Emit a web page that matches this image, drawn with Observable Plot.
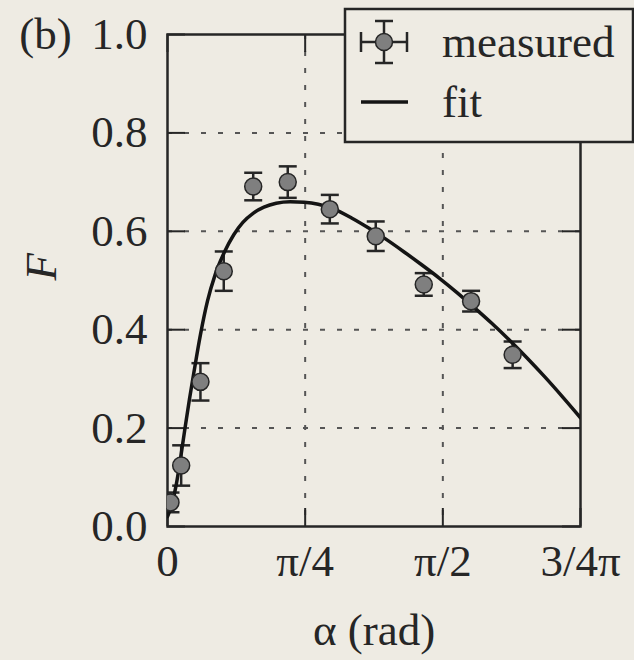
<!DOCTYPE html>
<html>
<head>
<meta charset="utf-8">
<script src="https://cdn.jsdelivr.net/npm/d3@7"></script>
<script src="https://cdn.jsdelivr.net/npm/@observablehq/plot@0.6"></script>
<style>
  html, body { margin: 0; padding: 0; background: #eeebe3; }
  #chart { position: relative; width: 634px; height: 660px; overflow: hidden; }
  #chart svg { position: absolute; left: 0; top: 0; }
</style>
</head>
<body>
<div id="chart"></div>
<script>
// Measured fidelity F versus angle alpha (rad), with vertical error bars
const alphaMeasured = [0.017, 0.078, 0.188, 0.321, 0.489, 0.686, 0.926, 1.188, 1.462, 1.732, 1.969];
const fMeasured     = [0.049, 0.124, 0.294, 0.519, 0.691, 0.700, 0.645, 0.590, 0.492, 0.458, 0.349];
const fError        = [0.020, 0.041, 0.038, 0.040, 0.028, 0.032, 0.029, 0.030, 0.023, 0.021, 0.027];

// Fitted curve, sampled along alpha
const alphaFit = [0, 0.025, 0.050, 0.075, 0.100, 0.125, 0.150, 0.188, 0.228, 0.272, 0.325, 0.378,
                  0.430, 0.490, 0.550, 0.620, 0.700, 0.780, 0.860, 0.950, 1.050, 1.150, 1.250,
                  1.350, 1.450, 1.550, 1.650, 1.750, 1.850, 1.950, 2.050, 2.150, 2.250, 2.356];
const fFit     = [0.020, 0.045, 0.085, 0.140, 0.200, 0.258, 0.312, 0.390, 0.458, 0.512, 0.558, 0.593,
                  0.618, 0.637, 0.649, 0.657, 0.660, 0.659, 0.655, 0.645, 0.627, 0.606, 0.583,
                  0.558, 0.532, 0.505, 0.476, 0.445, 0.413, 0.379, 0.343, 0.305, 0.265, 0.221];

// Axis ticks
const xTickValues = [0, Math.PI / 4, Math.PI / 2, 3 * Math.PI / 4];
const xTickLabels = ["0", "π/4", "π/2", "3/4π"];
const yTickValues = [0, 0.2, 0.4, 0.6, 0.8, 1.0];
const yTickLabels = ["0.0", "0.2", "0.4", "0.6", "0.8", "1.0"];
const legendLabels = ["measured", "fit"];
const xAxisTitle = "α (rad)";
const yAxisTitle = "F";
const panelTag = "(b)";

const W = 634, H = 660;
const margin = {top: 34, right: 54, bottom: 134, left: 167};
const frameW = W - margin.left - margin.right;
const frameH = H - margin.top - margin.bottom;
const tickLen = 18;
const ink = "#262626";
const bg = "#eeebe3";
const font = "'Liberation Serif', 'DejaVu Serif', serif";

const measured = alphaMeasured.map((a, i) => ({alpha: a, F: fMeasured[i], err: fError[i]}));
const fit = alphaFit.map((a, i) => ({alpha: a, F: fFit[i]}));

// horizontal cap for error bars; half-width equals the dot radius r
const capSymbol = {
  draw(context, size) {
    const w = Math.sqrt(size / Math.PI);
    context.moveTo(-w, 0);
    context.lineTo(w, 0);
  }
};

const grid = {stroke: "#555", strokeOpacity: 1, strokeWidth: 2, strokeDasharray: "5,12"};
const tickStyle = {stroke: ink, strokeWidth: 2};

const plot = Plot.plot({
  width: W,
  height: H,
  marginTop: margin.top,
  marginRight: margin.right,
  marginBottom: margin.bottom,
  marginLeft: margin.left,
  style: {background: "transparent", fontFamily: font, fontSize: "45px", color: ink},
  x: {domain: [0, 3 * Math.PI / 4]},
  y: {domain: [0, 1]},
  marks: [
    Plot.gridX(xTickValues.slice(1, -1), grid),
    Plot.gridY(yTickValues.slice(1, -1), grid),
    // inward ticks on all four sides
    Plot.tickX(xTickValues, {x: d => d, insetTop: frameH - tickLen, ...tickStyle}),
    Plot.tickX(xTickValues, {x: d => d, insetBottom: frameH - tickLen, ...tickStyle}),
    Plot.tickY(yTickValues, {y: d => d, insetRight: frameW - tickLen, ...tickStyle}),
    Plot.tickY(yTickValues, {y: d => d, insetLeft: frameW - tickLen, ...tickStyle}),
    Plot.axisX(xTickValues, {tickSize: 0, tickPadding: 18, label: null, fill: ink,
      tickFormat: d => xTickLabels[xTickValues.indexOf(d)]}),
    Plot.axisY(yTickValues, {tickSize: 0, tickPadding: 20, label: null, fill: ink,
      tickFormat: d => yTickLabels[yTickValues.indexOf(d)]}),
    Plot.frame({stroke: ink, strokeWidth: 2.5}),
    // error bars
    Plot.ruleX(measured, {x: "alpha", y1: d => d.F - d.err, y2: d => d.F + d.err,
      stroke: ink, strokeWidth: 2.5, clip: true}),
    Plot.dot(measured, {x: "alpha", y: d => d.F + d.err, symbol: capSymbol, r: 9,
      fill: "none", stroke: ink, strokeWidth: 2.5, clip: true}),
    Plot.dot(measured, {x: "alpha", y: d => d.F - d.err, symbol: capSymbol, r: 9,
      fill: "none", stroke: ink, strokeWidth: 2.5, clip: true}),
    // fit curve
    Plot.line(fit, {x: "alpha", y: "F", curve: "monotone-x", stroke: "#141414",
      strokeWidth: 3.5, clip: true}),
    // measured points
    Plot.dot(measured, {x: "alpha", y: "F", r: 8.5, fill: "#7f7f7f", stroke: ink,
      strokeWidth: 1.5, clip: true}),
    // titles
    Plot.text([yAxisTitle], {frameAnchor: "left", dx: -126, rotate: -90, fontStyle: "italic", fill: ink}),
    Plot.text([xAxisTitle], {frameAnchor: "bottom", dy: 104, lineAnchor: "middle", fill: ink}),
    Plot.text([panelTag], {frameAnchor: "top-left", dx: -122, textAnchor: "middle",
      lineAnchor: "middle", fill: ink})
  ]
});
document.getElementById("chart").appendChild(plot);

// legend box, upper right
const lg = d3.select("#chart").append("svg")
  .attr("width", W).attr("height", H)
  .style("font-family", font).style("font-size", "45px");
lg.append("rect").attr("x", 345).attr("y", 9).attr("width", 288).attr("height", 133)
  .attr("fill", bg).attr("stroke", ink).attr("stroke-width", 2.5);
const mk = lg.append("g").attr("transform", "translate(384,42)")
  .attr("stroke", ink).attr("stroke-width", 2.5).attr("fill", "none");
mk.append("line").attr("x1", -23).attr("x2", 23).attr("y1", 0).attr("y2", 0);
mk.append("line").attr("x1", -23).attr("x2", -23).attr("y1", -10).attr("y2", 10);
mk.append("line").attr("x1", 23).attr("x2", 23).attr("y1", -10).attr("y2", 10);
mk.append("line").attr("x1", 0).attr("x2", 0).attr("y1", -21).attr("y2", 21);
mk.append("line").attr("x1", -9).attr("x2", 9).attr("y1", -21).attr("y2", -21);
mk.append("line").attr("x1", -9).attr("x2", 9).attr("y1", 21).attr("y2", 21);
mk.append("circle").attr("r", 8.5).attr("fill", "#7f7f7f").attr("stroke-width", 1.5);
lg.append("line").attr("x1", 361).attr("x2", 408).attr("y1", 102).attr("y2", 102)
  .attr("stroke", "#141414").attr("stroke-width", 3.5);
lg.selectAll("text.lab").data(legendLabels).join("text")
  .attr("class", "lab")
  .attr("x", 442).attr("y", (d, i) => 57 + i * 60)
  .attr("fill", ink).text(d => d);
</script>
</body>
</html>
